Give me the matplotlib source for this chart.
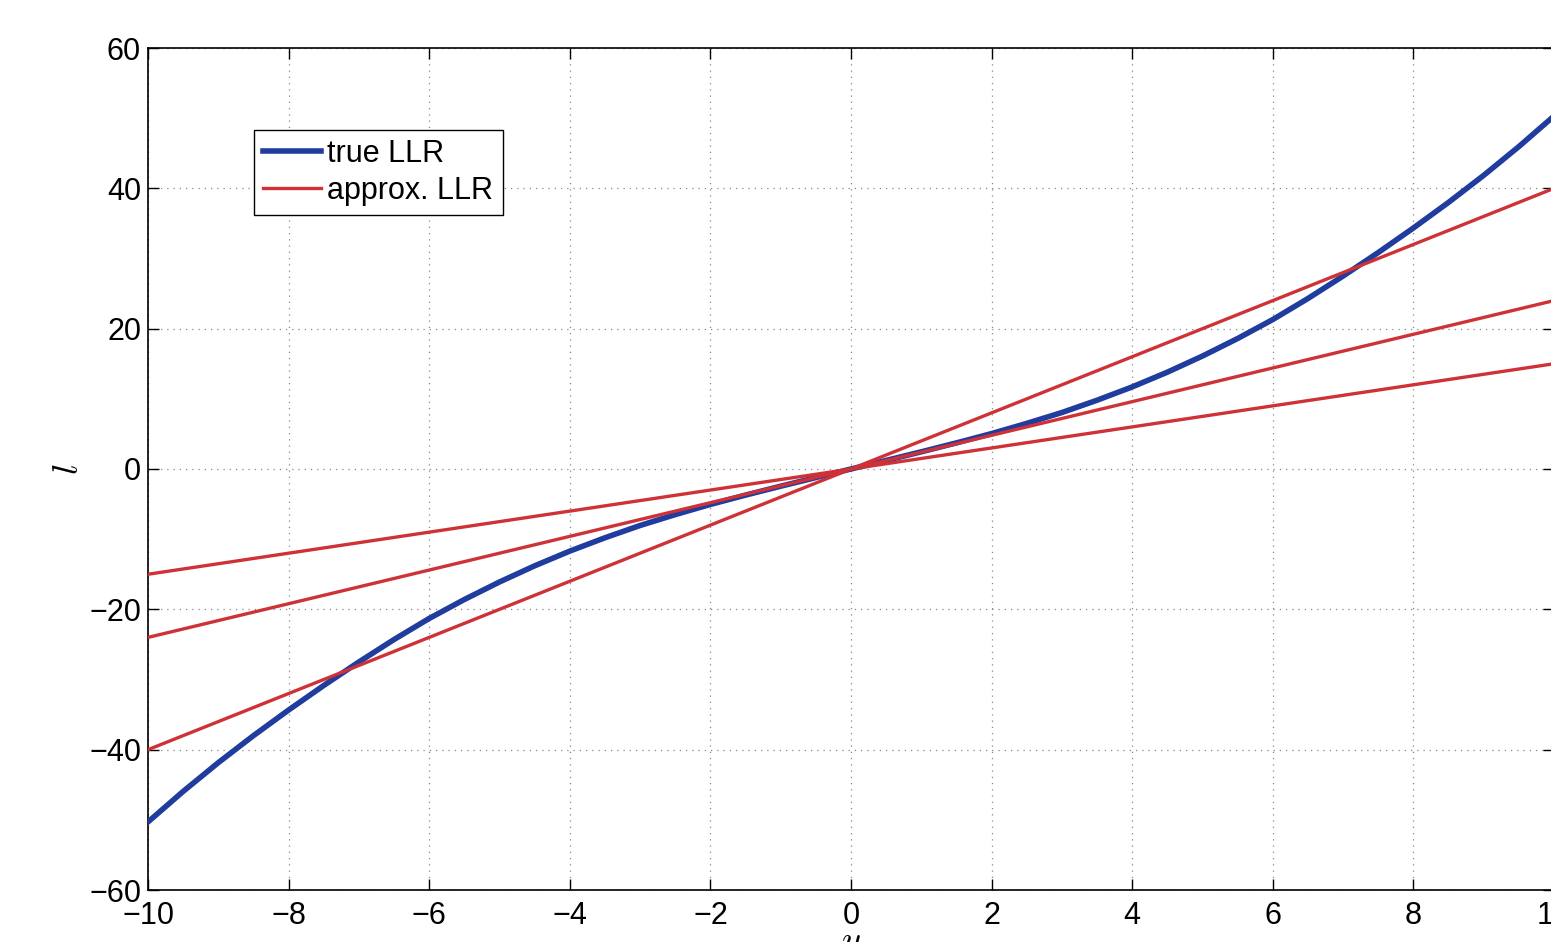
import matplotlib
matplotlib.use("Agg")
import matplotlib.pyplot as plt

plt.rcParams['font.family'] = ['Liberation Sans', 'DejaVu Sans']
plt.rcParams['mathtext.fontset'] = 'cm'

# true LLR
y_vals = [-10, -9.5, -9, -8.5, -8, -7.5, -7, -6.5, -6, -5.5, -5, -4.5, -4, -3.5, -3,
          -2.5, -2, -1.5, -1, -0.5, 0, 0.5, 1, 1.5, 2, 2.5, 3, 3.5, 4, 4.5, 5,
          5.5, 6, 6.5, 7, 7.5, 8, 8.5, 9, 9.5, 10]
true_llr = [-50.3, -45.95, -41.85, -38.0, -34.35, -30.85, -27.5, -24.3, -21.3, -18.6,
            -16.1, -13.8, -11.7, -9.8, -8.05, -6.5, -5.05, -3.72, -2.45, -1.22, 0.0,
            1.22, 2.45, 3.72, 5.05, 6.5, 8.05, 9.8, 11.7, 13.8, 16.1,
            18.6, 21.3, 24.3, 27.5, 30.85, 34.35, 38.0, 41.85, 45.95, 50.3]

# approximated LLR lines (endpoints at y = -10 and y = 10)
approx_y = [-10, 10]
approx_lines = [[-40, 40], [-24, 24], [-15, 15]]

blue = '#1f3c9e'
red = '#cf3236'

fig = plt.figure(figsize=(15.51, 9.42), dpi=100)
ax = fig.add_axes([148 / 1551, 52 / 942, 1406 / 1551, 842 / 942])

ax.plot(y_vals, true_llr, color=blue, lw=4, label='true LLR', zorder=3)
for i, line in enumerate(approx_lines):
    ax.plot(approx_y, line, color=red, lw=2.4, zorder=4,
            label='approx. LLR' if i == 0 else None)

ax.set_xlim(-10, 10)
ax.set_ylim(-60, 60)
ax.set_xticks(range(-10, 11, 2))
ax.set_yticks(range(-60, 61, 20))
ax.grid(True, linestyle=(0, (1, 4)), color='#888888', lw=0.9)
ax.tick_params(direction='in', length=8, width=1, labelsize=22, top=True, right=True)
ax.tick_params(axis='x', pad=8)
ax.tick_params(axis='y', pad=5)
for s in ax.spines.values():
    s.set_linewidth(1.2)

ax.set_xlabel('$y$', fontsize=26)
ax.set_ylabel('$l$', fontsize=26)
ax.xaxis.set_label_coords(0.5, -0.042)
ax.yaxis.set_label_coords(-0.044, 0.5)

leg = ax.legend(loc='upper left', bbox_to_anchor=(0.0754, 0.9026), borderaxespad=0,
                fontsize=22, fancybox=False, edgecolor='black', framealpha=1,
                handlelength=1.9, handletextpad=0.2, borderpad=0.3, labelspacing=0.22)
leg.get_frame().set_linewidth(1.0)

fig.savefig('out.png', dpi=100)
